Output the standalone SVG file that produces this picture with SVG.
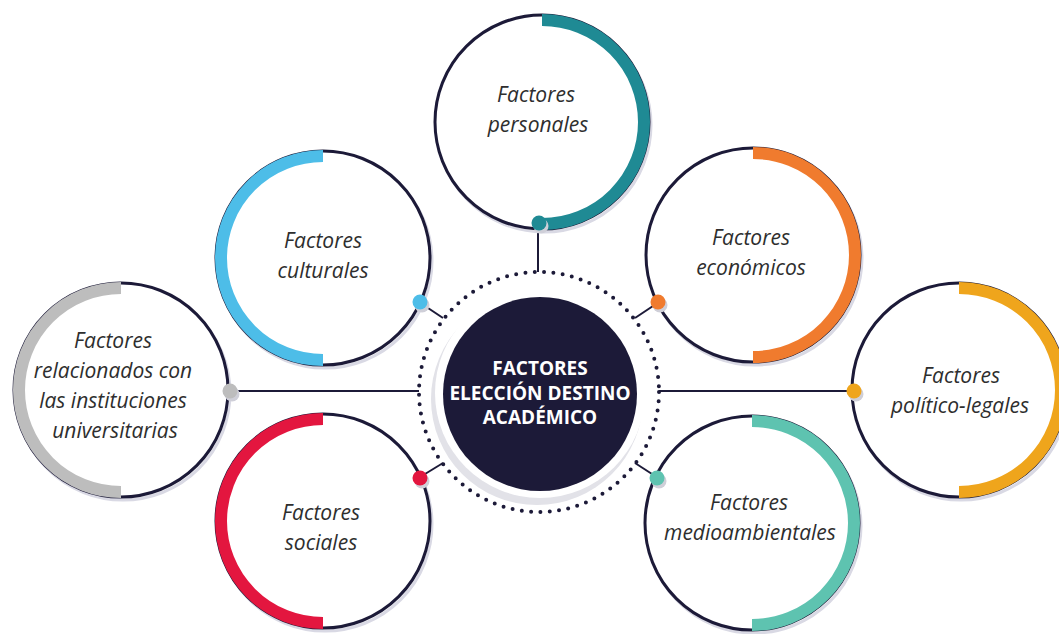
<svg xmlns="http://www.w3.org/2000/svg" width="1059" height="634" viewBox="0 0 1059 634">
<style>
.ring{fill:#ffffff;stroke:#1c1a38;stroke-width:3}
.shadow{fill:none;stroke:#d9d9e4;stroke-width:3}
.arc{fill:none;stroke-width:12}
.lbl{font-family:"Open Sans","Noto Sans",sans-serif;font-style:italic;font-size:21px;fill:#2e2e2e;text-anchor:middle}
.title{font-family:"Open Sans","Noto Sans",sans-serif;font-weight:700;font-size:19px;fill:#ffffff;text-anchor:middle}
.conn{stroke:#1c1a38;stroke-width:2;fill:none}
.dotsh{fill:#cfcfd8}
</style>
<rect width="1059" height="634" fill="#ffffff"/>

<g id="connectors">
  <line class="conn" x1="538" y1="230" x2="538" y2="272"/>
  <line class="conn" x1="236" y1="391" x2="419" y2="391"/>
  <line class="conn" x1="659" y1="391" x2="848" y2="391"/>
  <line class="conn" x1="425" y1="306" x2="443" y2="318"/>
  <line class="conn" x1="653" y1="306" x2="635" y2="318"/>
  <line class="conn" x1="425" y1="474" x2="443" y2="463"/>
  <line class="conn" x1="652" y1="474" x2="635" y2="463"/>
</g>

<g id="center">
  <circle cx="539" cy="392" r="120" fill="none" stroke="#1c1a38" stroke-width="4" stroke-dasharray="0 9.35" stroke-linecap="round"/>
  <circle cx="537" cy="399" r="106" fill="#e2e2e8"/>
  <circle cx="540" cy="393" r="105" fill="#ffffff"/>
  <circle cx="540" cy="394" r="97" fill="#1c1a38"/>
  <text class="title" x="540" y="375">FACTORES</text>
  <text class="title" x="540" y="400">ELECCIÓN DESTINO</text>
  <text class="title" x="540" y="424">ACADÉMICO</text>
</g>

<g id="personales">
  <circle class="shadow" cx="544" cy="125" r="107"/>
  <circle class="ring" cx="542" cy="122" r="107"/>
  <path class="arc" stroke="#1f8a94" d="M542,20 A102,102 0 0 1 542,224"/>
  <circle cx="541" cy="226" r="7.5" class="dotsh"/>
  <circle cx="539" cy="223" r="7.5" fill="#1f8a94"/>
  <text class="lbl" x="536" y="102">Factores</text>
  <text class="lbl" x="538" y="132">personales</text>
</g>

<g id="culturales">
  <circle class="shadow" cx="325" cy="261" r="107"/>
  <circle class="ring" cx="323" cy="258" r="107"/>
  <path class="arc" stroke="#4dbde8" d="M323,156 A102,102 0 0 0 323,360"/>
  <circle cx="422" cy="305" r="7.5" class="dotsh"/>
  <circle cx="420" cy="302" r="7.5" fill="#4dbde8"/>
  <text class="lbl" x="323" y="248">Factores</text>
  <text class="lbl" x="323" y="278">culturales</text>
</g>

<g id="economicos">
  <circle class="shadow" cx="755" cy="258" r="107"/>
  <circle class="ring" cx="753" cy="255" r="107"/>
  <path class="arc" stroke="#f07b2e" d="M753,153 A102,102 0 0 1 753,357"/>
  <circle cx="660" cy="305" r="7.5" class="dotsh"/>
  <circle cx="658" cy="302" r="7.5" fill="#f07b2e"/>
  <text class="lbl" x="751" y="245">Factores</text>
  <text class="lbl" x="751" y="275">económicos</text>
</g>

<g id="relacionados">
  <circle class="shadow" cx="123" cy="393" r="107"/>
  <circle class="ring" cx="121" cy="390" r="107"/>
  <path class="arc" stroke="#bdbdbd" d="M121,288 A102,102 0 0 0 121,492"/>
  <circle cx="232" cy="394" r="7.5" class="dotsh"/>
  <circle cx="230" cy="391" r="7.5" fill="#bdbdbd"/>
  <text class="lbl" x="113" y="348">Factores</text>
  <text class="lbl" x="113" y="378">relacionados con</text>
  <text class="lbl" x="113" y="408">las instituciones</text>
  <text class="lbl" x="115" y="438">universitarias</text>
</g>

<g id="politico">
  <circle class="shadow" cx="961" cy="393" r="107"/>
  <circle class="ring" cx="959" cy="390" r="107"/>
  <path class="arc" stroke="#efa51c" d="M959,288 A102,102 0 0 1 959,492"/>
  <circle cx="856" cy="394" r="7.5" class="dotsh"/>
  <circle cx="854" cy="391" r="7.5" fill="#efa51c"/>
  <text class="lbl" x="961" y="383">Factores</text>
  <text class="lbl" x="960" y="413">político-legales</text>
</g>

<g id="sociales">
  <circle class="shadow" cx="325" cy="524" r="107"/>
  <circle class="ring" cx="323" cy="521" r="107"/>
  <path class="arc" stroke="#e3163f" d="M323,419 A102,102 0 0 0 323,623"/>
  <circle cx="422" cy="481" r="7.5" class="dotsh"/>
  <circle cx="420" cy="478" r="7.5" fill="#e3163f"/>
  <text class="lbl" x="321" y="520">Factores</text>
  <text class="lbl" x="321" y="550">sociales</text>
</g>

<g id="medioambientales">
  <circle class="shadow" cx="754" cy="526" r="107"/>
  <circle class="ring" cx="752" cy="523" r="107"/>
  <path class="arc" stroke="#5ec3b0" d="M752,421 A102,102 0 0 1 752,625"/>
  <circle cx="659" cy="481" r="7.5" class="dotsh"/>
  <circle cx="657" cy="478" r="7.5" fill="#5ec3b0"/>
  <text class="lbl" x="749" y="510">Factores</text>
  <text class="lbl" x="750" y="540">medioambientales</text>
</g>
</svg>
